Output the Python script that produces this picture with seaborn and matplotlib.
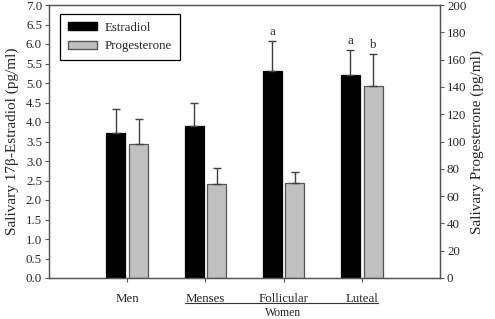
import numpy as np
import pandas as pd
import matplotlib
matplotlib.use("Agg")
import matplotlib.pyplot as plt
import matplotlib.transforms as mtransforms
import seaborn as sns

groups = ["Men", "Menses", "Follicular", "Luteal"]
estradiol = [3.73, 3.90, 5.32, 5.20]
estradiol_err = [0.61, 0.58, 0.76, 0.65]
progesterone = [98.0, 69.0, 69.4, 140.9]
progesterone_err = [18.3, 11.4, 8.5, 23.0]
letters_e = ["", "", "a", "a"]
letters_p = ["", "", "", "b"]
series = ["Estradiol", "Progesterone"]

E_MAX, P_MAX = 7.0, 200.0
scale = E_MAX / P_MAX

sns.set_style("ticks")
plt.rcParams["font.family"] = ["Liberation Serif", "DejaVu Serif"]
plt.rcParams["font.size"] = 9.3

df = pd.DataFrame({
    "group": groups * 2,
    "series": [series[0]] * 4 + [series[1]] * 4,
    "value": list(estradiol) + [p * scale for p in progesterone],
})

fig = plt.figure(figsize=(4.95, 3.19), dpi=100)
ax = fig.add_axes([49 / 495, 41 / 319, 391 / 495, 273 / 319])

sns.barplot(data=df, x="group", y="value", hue="series", order=groups,
            hue_order=series, palette=["#000000", "#c0c0c0"], errorbar=None,
            width=0.58, gap=0.16, ax=ax, legend=True)

edge_cols = ["#000000", "#555555"]
errs = [estradiol_err, [e * scale for e in progesterone_err]]
vals = [estradiol, [p * scale for p in progesterone]]
letters = [letters_e, letters_p]
bar_conts = list(ax.containers)
for k, cont in enumerate(bar_conts):
    for i, bar in enumerate(cont.patches):
        bar.set_edgecolor(edge_cols[k])
        bar.set_linewidth(0.9)
        xc = bar.get_x() + bar.get_width() / 2
        ax.errorbar([xc], [vals[k][i]], yerr=[[0], [errs[k][i]]], fmt="none",
                    ecolor="#404040", elinewidth=1.0, capsize=3.2, capthick=1.0,
                    zorder=1)
        if letters[k][i]:
            ax.annotate(letters[k][i], xy=(xc, vals[k][i] + errs[k][i]),
                        xytext=(0, 2), textcoords="offset points",
                        ha="center", va="bottom", fontsize=9.3)

ax.set_xlim(-1, 4)
ax.set_ylim(0, E_MAX)
ax.set_yticks(np.arange(0, 7.01, 0.5))
ax.set_yticklabels([f"{v:.1f}" for v in np.arange(0, 7.01, 0.5)])
ax.set_xlabel("")
ax.set_ylabel("Salivary 17\u03b2-Estradiol (pg/ml)", labelpad=5, fontsize=11)
ax.tick_params(axis="both", direction="out", length=3, width=0.8,
               color="#555555", labelsize=9.3, pad=2)
ax.tick_params(axis="x", pad=8)

ax2 = ax.twinx()
ax2.set_ylim(0, P_MAX)
ax2.set_yticks(np.arange(0, 201, 20))
ax2.set_ylabel("Salivary Progesterone (pg/ml)", labelpad=3, fontsize=11)
ax2.tick_params(axis="y", direction="out", length=3, width=0.8,
                color="#555555", labelsize=9.3, pad=2)

for a in (ax, ax2):
    for s in a.spines.values():
        s.set_visible(True)
        s.set_color("#555555")
        s.set_linewidth(0.9)

trans = mtransforms.blended_transform_factory(ax.transData, ax.transAxes)
ax.plot([0.74, 3.21], [-0.092, -0.092], transform=trans, color="#333333",
        lw=0.8, clip_on=False)
ax.text(2, -0.13, "Women", transform=trans, ha="center", va="center",
        fontsize=8.5)

handles, labels = ax.get_legend_handles_labels()
for h, ec in zip(handles, edge_cols):
    h.set_edgecolor(ec)
leg = ax.legend(handles, labels, loc="upper left",
                bbox_to_anchor=(0.028, 0.967), borderaxespad=0,
                frameon=True, fancybox=False,
                edgecolor="black", framealpha=1, handlelength=2.3,
                handleheight=0.6, labelspacing=0.5, borderpad=0.6,
                handletextpad=0.55, fontsize=9.3)
leg.get_frame().set_linewidth(0.9)

fig.savefig("out.png", dpi=100)
